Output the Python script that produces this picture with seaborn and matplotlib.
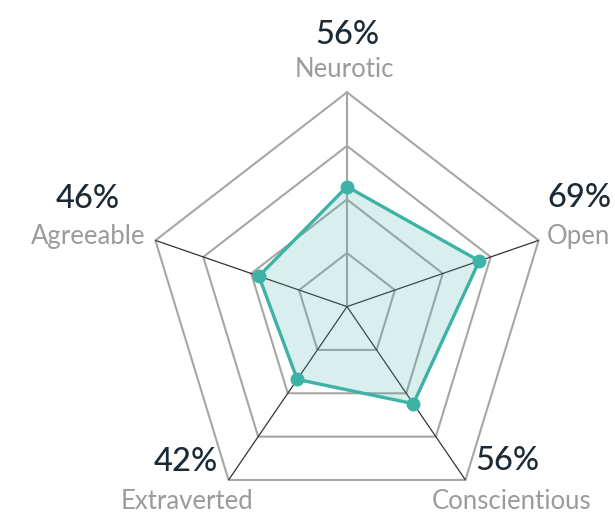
import numpy as np
import matplotlib
matplotlib.use("Agg")
import matplotlib.pyplot as plt
import seaborn as sns

# Personality profile scores (percent)
traits = ["Neurotic", "Open", "Conscientious", "Extraverted", "Agreeable"]
scores = [56, 69, 56, 42, 46]
ring_levels = [25, 50, 75, 100]

sns.set_theme(style="white")
plt.rcParams["font.family"] = ["Lato", "DejaVu Sans"]

TEAL = "#3db3a7"
GRID = "#a6a6a6"
SPOKE = "#333333"
PCT_COLOR = "#1b2a35"
LABEL_COLOR = "#9b9b9b"

W, H = 615, 514
fig = plt.figure(figsize=(W / 100, H / 100), dpi=100)

# Radar frame geometry (pixels): centre and horizontal / vertical radius
cx, cy, rx, ry = 347, 306.6, 201.5, 214.3
ax = fig.add_axes([(cx - rx) / W, (H - cy - ry) / H, 2 * rx / W, 2 * ry / H],
                  projection="polar")
ax.set_aspect("auto")
ax.set_theta_offset(np.pi / 2)
ax.set_theta_direction(-1)

theta = np.linspace(0, 2 * np.pi, len(traits), endpoint=False)
theta_closed = np.r_[theta, theta[0]]
scores_closed = np.r_[scores, scores[0]]

# pentagon rings
for lev in ring_levels:
    ax.plot(theta_closed, [lev] * len(theta_closed), color=GRID, lw=1.5,
            clip_on=False, zorder=1, solid_joinstyle="miter")

# spokes
for i, t in enumerate(theta):
    if i == 0:
        ax.plot([t, t], [0, ring_levels[-1]], color=GRID, lw=1.5, zorder=1)
    else:
        ax.plot([t, t], [0, ring_levels[-1]], color=SPOKE, lw=0.9, zorder=1)

# filled score polygon
ax.fill(theta_closed, scores_closed, color=TEAL, alpha=0.2, lw=0, zorder=2)
sns.lineplot(x=theta_closed, y=scores_closed, sort=False, estimator=None,
             color=TEAL, lw=2.4, ax=ax, zorder=3)
sns.scatterplot(x=theta, y=scores, s=100, color=TEAL, edgecolor=TEAL,
                linewidth=0, ax=ax, zorder=4)

ax.set_ylim(0, ring_levels[-1])
ax.set_axis_off()

# label placement around each vertex: (pct dx, pct dy, pct ha, name dx, name dy, name ha) in px
placements = [
    (0, 47.8, "center", -3, 15.3, "center"),
    (8.4, 33.7, "left", 8.4, -3.6, "left"),
    (9.6, 10, "left", 46.6, -29.5, "center"),
    (-10.6, 8.5, "right", -42, -29.5, "center"),
    (-35.4, 32.4, "right", -10.4, -3.6, "right"),
]
k = 0.72  # px -> points at 100 dpi
for t, name, val, (pdx, pdy, pha, ndx, ndy, nha) in zip(theta, traits, scores, placements):
    ax.annotate(f"{val}%", xy=(t, ring_levels[-1]), xytext=(pdx * k, pdy * k),
                textcoords="offset points", ha=pha, va="baseline",
                fontsize=23.5, fontweight="medium", color=PCT_COLOR,
                annotation_clip=False)
    ax.annotate(name, xy=(t, ring_levels[-1]), xytext=(ndx * k, ndy * k),
                textcoords="offset points", ha=nha, va="baseline",
                fontsize=18.5, color=LABEL_COLOR, annotation_clip=False)

fig.savefig("out.png", dpi=100)
